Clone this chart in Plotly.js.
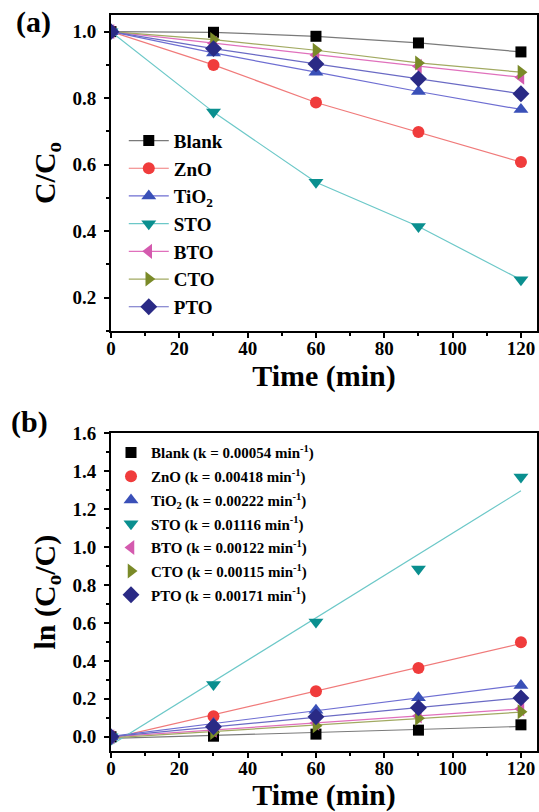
<!DOCTYPE html>
<html><head><meta charset="utf-8">
<script src="https://cdn.plot.ly/plotly-3.0.1.min.js"></script>
<style>html,body{margin:0;padding:0;background:#fff}</style>
</head><body><div id="chart" style="width:539px;height:812px"></div>
<script>
// ---- data ----
const time = [0, 30, 60, 90, 120];
const sampleNames = ['Blank', 'ZnO', 'TiO<sub>2</sub>', 'STO', 'BTO', 'CTO', 'PTO'];
const rateConstants = ['0.00054', '0.00418', '0.00222', '0.01116', '0.00122', '0.00115', '0.00171'];

// (a) C/C0 vs time
const ratioBlank = [1.0, 0.998, 0.986, 0.966, 0.939];
const ratioZnO   = [1.0, 0.900, 0.787, 0.698, 0.608];
const ratioTiO2  = [1.0, 0.936, 0.878, 0.820, 0.766];
const ratioSTO   = [1.0, 0.758, 0.547, 0.414, 0.254];
const ratioBTO   = [1.0, 0.965, 0.930, 0.896, 0.863];
const ratioCTO   = [1.0, 0.976, 0.944, 0.906, 0.878];
const ratioPTO   = [1.0, 0.949, 0.903, 0.858, 0.813];

// (b) ln(C0/C) vs time
const lnBlank = [0, 0.003, 0.014, 0.035, 0.063];
const lnZnO   = [0, 0.108, 0.240, 0.362, 0.498];
const lnTiO2  = [0, 0.070, 0.140, 0.206, 0.270];
const lnSTO   = [0, 0.275, 0.605, 0.884, 1.370];
const lnBTO   = [0, 0.035, 0.072, 0.110, 0.147];
const lnCTO   = [0, 0.022, 0.058, 0.098, 0.132];
const lnPTO   = [0, 0.053, 0.105, 0.153, 0.205];

// ---- styles ----
const ratios = [ratioBlank, ratioZnO, ratioTiO2, ratioSTO, ratioBTO, ratioCTO, ratioPTO];
const lns = [lnBlank, lnZnO, lnTiO2, lnSTO, lnBTO, lnCTO, lnPTO];
const markerColors = ['#000000', '#f03c3c', '#3a50b8', '#0a8f8f', '#d45aae', '#7a8a28', '#2a2a85'];
const lineColors   = ['#7a7a7a', '#f07a7a', '#6e6ed2', '#6cc8c8', '#e070bc', '#a2aa62', '#6a6ac4'];
const symbols = ['square', 'circle', 'triangle-up', 'triangle-down', 'triangle-left', 'triangle-right', 'diamond'];
const sizes = [11, 12, 13, 13, 13, 13, 13];

function linfit(x, y) {
  const n = x.length;
  const mx = x.reduce((a, b) => a + b, 0) / n;
  const my = y.reduce((a, b) => a + b, 0) / n;
  let sxy = 0, sxx = 0;
  for (let i = 0; i < n; i++) { sxy += (x[i] - mx) * (y[i] - my); sxx += (x[i] - mx) ** 2; }
  const k = sxy / sxx;
  return {k: k, b: my - k * mx};
}

const FONT = 'Liberation Serif, Times New Roman, serif';
const traces = [];
for (let i = 0; i < sampleNames.length; i++) {
  traces.push({
    x: time, y: ratios[i], xaxis: 'x', yaxis: 'y', type: 'scatter', mode: 'lines+markers',
    name: sampleNames[i], legend: 'legend',
    line: {color: lineColors[i], width: 1.2},
    marker: {color: markerColors[i], symbol: symbols[i], size: sizes[i]}
  });
}
for (let i = 0; i < sampleNames.length; i++) {
  const f = linfit(time, lns[i]);
  const xs = [time[0], time[time.length - 1]];
  traces.push({
    x: xs, y: xs.map(t => f.k * t + f.b), xaxis: 'x2', yaxis: 'y2', type: 'scatter', mode: 'lines',
    showlegend: false, hoverinfo: 'skip',
    line: {color: lineColors[i], width: 1.2}
  });
}
for (let i = 0; i < sampleNames.length; i++) {
  traces.push({
    x: time, y: lns[i], xaxis: 'x2', yaxis: 'y2', type: 'scatter', mode: 'markers',
    name: sampleNames[i] + ' (k = ' + rateConstants[i] + ' min<sup>-1</sup>)',
    legend: 'legend2', legendgroup: 'b' + i,
    marker: {color: markerColors[i], symbol: symbols[i], size: sizes[i]}
  });
}

const tickFont = {family: FONT, size: 19, color: '#000', weight: 'bold'};
const titleFont = {family: FONT, size: 30, color: '#000', weight: 'bold'};
function xAxis(anchor) {
  return {
    anchor: anchor, range: [0, 124.7], dtick: 20, tick0: 0,
    showline: true, linewidth: 2, linecolor: '#000', mirror: true,
    ticks: 'outside', ticklen: 5, tickwidth: 2, tickcolor: '#000',
    minor: {dtick: 10, ticks: 'outside', ticklen: 3, tickwidth: 2, tickcolor: '#000'},
    showgrid: false, zeroline: false, tickfont: tickFont, ticklabelstandoff: -6,
    title: {text: 'Time (min)', font: titleFont, standoff: 2}
  };
}
function yAxis(anchor, domain, range, title) {
  return {
    anchor: anchor, domain: domain, range: range, dtick: 0.2, tick0: 0,
    showline: true, linewidth: 2, linecolor: '#000', mirror: true,
    ticks: 'outside', ticklen: 5, tickwidth: 2, tickcolor: '#000',
    minor: {dtick: 0.1, ticks: 'outside', ticklen: 3, tickwidth: 2, tickcolor: '#000'},
    showgrid: false, zeroline: false, tickfont: tickFont, tickformat: '.1f',
    ticklabelstandoff: 4,
    title: {text: title, font: titleFont, standoff: 8}
  };
}

const layout = {
  width: 539, height: 812,
  margin: {l: 111, r: 2, t: 15, b: 61},
  paper_bgcolor: '#fff', plot_bgcolor: '#fff',
  font: {family: FONT, color: '#000'},
  xaxis: xAxis('y'),
  yaxis: yAxis('x', [0.5707, 1], [0.1, 1.05], 'C/C<sub>o</sub>'),
  xaxis2: xAxis('y2'),
  yaxis2: yAxis('x2', [0, 0.4317], [-0.075, 1.6], 'ln (C<sub>o</sub>/C)'),
  legend: {
    x: 0.030, y: 0.855, xanchor: 'left', yanchor: 'top', xref: 'paper', yref: 'paper',
    bgcolor: 'rgba(0,0,0,0)', borderwidth: 0, traceorder: 'normal', itemwidth: 40,
    font: {family: FONT, size: 19, color: '#000', weight: 'bold'}
  },
  legend2: {
    x: 0.0, y: 0.4275, xanchor: 'left', yanchor: 'top', xref: 'paper', yref: 'paper',
    bgcolor: 'rgba(0,0,0,0)', borderwidth: 0, traceorder: 'grouped', tracegroupgap: 1.2,
    font: {family: FONT, size: 15, color: '#000', weight: 'bold'}
  },
  annotations: [
    {text: '(a)', xref: 'paper', yref: 'paper', x: -0.228, y: 0.99, xanchor: 'left', yanchor: 'middle',
     showarrow: false, font: {family: FONT, size: 30, color: '#000', weight: 'bold'}},
    {text: '(b)', xref: 'paper', yref: 'paper', x: -0.24, y: 0.447, xanchor: 'left', yanchor: 'middle',
     showarrow: false, font: {family: FONT, size: 30, color: '#000', weight: 'bold'}}
  ],
  showlegend: true
};

Plotly.newPlot('chart', traces, layout, {staticPlot: true, displayModeBar: false});
</script></body></html>
